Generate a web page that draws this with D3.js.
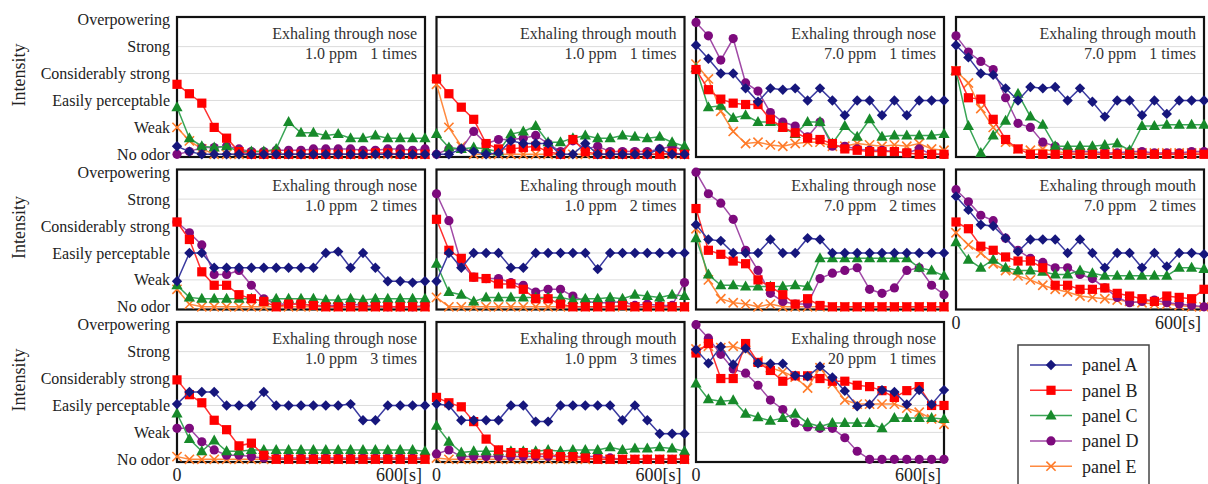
<!DOCTYPE html>
<html>
<head>
<meta charset="utf-8">
<script src="https://cdn.jsdelivr.net/npm/d3@7"></script>
<style>
  html, body { margin: 0; padding: 0; background: #fff; }
  svg { display: block; font-family: "Liberation Serif", "Times New Roman", serif; }
</style>
</head>
<body>
<svg id="chart" width="1208" height="484"></svg>
<script>
// Elapsed time after exhaling [s]
const times = [0, 30, 60, 90, 120, 150, 180, 210, 240, 270, 300, 330, 360, 390, 420, 450, 480, 510, 540, 570, 600];

// Odor intensity scale, 0 .. 5
const levelLabels = ["No odor", "Weak", "Easily perceptable", "Considerably strong", "Strong", "Overpowering"];

// Panel conditions (11 panels, read row by row)
const routes = ["Exhaling through nose", "Exhaling through mouth", "Exhaling through nose", "Exhaling through mouth",
                "Exhaling through nose", "Exhaling through mouth", "Exhaling through nose", "Exhaling through mouth",
                "Exhaling through nose", "Exhaling through mouth", "Exhaling through nose"];
const concentrations = ["1.0 ppm", "1.0 ppm", "7.0 ppm", "7.0 ppm",
                        "1.0 ppm", "1.0 ppm", "7.0 ppm", "7.0 ppm",
                        "1.0 ppm", "1.0 ppm", "20 ppm"];
const repeats = ["1 times", "1 times", "1 times", "1 times",
                 "2 times", "2 times", "2 times", "2 times",
                 "3 times", "3 times", "1 times"];

const seriesNames = ["panel A", "panel B", "panel C", "panel D", "panel E"];

// Mean intensity of each sensory panel, one row per condition
const panelA = [
  [0.3,0.1,0,0,0,0,0,0,0,0,0,0,0,0,0,0,0,0,0,0,0],
  [0,0,0.2,0.1,0,0.05,0.5,0.4,0.4,0.4,0,0,0.4,0,0,0,0,0,0.2,0,0],
  [4.05,3.55,3.0,3.0,2.45,1.95,2.45,2.4,2.45,2.0,2.45,2.0,1.45,2.0,2.0,1.45,2.0,1.45,2.0,2.0,2.0],
  [4.05,3.6,3.0,2.95,2.45,2.0,2.5,2.45,2.5,2.0,2.45,1.95,1.4,2.0,2.0,1.45,2.0,1.5,2.0,2.0,2.0],
  [0.95,2.0,2.0,1.45,1.45,1.45,1.45,1.45,1.45,1.45,1.45,1.45,2.0,2.05,1.45,2.0,1.45,0.95,0.95,0.9,0.95],
  [0.95,2.0,1.45,2.0,2.0,2.0,1.45,1.45,2.0,2.0,2.0,2.0,2.0,1.4,2.0,2.0,2.0,2.0,2.0,2.0,2.0],
  [3.05,2.5,2.45,2.0,2.0,2.0,2.5,2.0,2.0,2.55,2.5,2.0,2.0,2.0,2.0,2.0,2.0,2.0,2.0,2.0,2.0],
  [4.1,3.6,3.05,3.0,2.55,2.05,2.5,2.5,2.5,2.0,2.5,2.0,1.45,2.0,2.0,1.45,2.0,1.5,2.0,2.0,1.95],
  [2.05,2.5,2.5,2.5,2.0,2.0,2.0,2.5,2.0,2.0,2.0,2.0,2.0,2.0,2.05,1.45,1.45,2.0,2.0,2.0,2.0],
  [2.05,2.0,1.45,1.45,1.45,1.45,2.0,2.0,1.4,1.4,2.0,2.0,2.0,2.0,2.0,1.45,2.0,1.45,0.95,0.95,0.95],
  [4.08,3.57,4.18,3.52,4.12,3.57,3.55,3.55,3.11,3.08,3.45,3.04,2.54,1.97,2.04,2.57,2.5,2.04,2.57,2.04,2.57]
];
const panelB = [
  [2.6,2.25,1.9,1.0,0.6,0.1,0,0,0,0,0,0,0,0,0,0,0.05,0.05,0,0,0],
  [2.8,2.25,1.75,1.3,0.4,0.2,0.2,0.25,0.3,0.1,0,0.55,0.1,0,0,0,0,0,0,0.05,0],
  [3.15,2.4,2.05,1.9,1.85,1.85,1.3,1.0,0.8,0.6,0.55,0.4,0.2,0.15,0.1,0.1,0.1,0.05,0,0,0],
  [3.1,2.1,2.05,1.3,0.55,0.2,0,0,0,0,0,0,0,0,0,0,0,0,0,0,0],
  [3.15,2.5,1.3,0.8,0.8,0.45,0.3,0.2,0,0.1,0.1,0.05,0,0,0,0,0,0,0,0,0],
  [3.25,2.1,1.8,1.1,1.05,0.85,0.85,0.65,0.3,0.3,0.1,0,0,0,0,0.05,0,0,0,0,0],
  [3.65,2.1,1.95,1.7,1.6,1.0,0.75,0.45,0.1,0.3,0.05,0,0,0,0,0,0,0,0,0,0],
  [3.15,2.9,2.25,2.1,1.85,1.7,1.7,1.45,0.8,0.8,0.65,0.65,0.7,0.5,0.4,0.3,0.2,0.4,0.35,0.3,0.65],
  [2.95,2.4,2.1,1.45,1.1,0.5,0.6,0.15,0,0,0,0,0,0,0,0,0,0,0,0,0],
  [2.3,2.1,1.95,1.4,0.75,0.35,0.25,0.25,0.2,0.2,0.1,0.1,0.05,0,0,0,0,0,0,0,0],
  [3.95,4.3,3.0,3.0,4.3,3.6,3.3,2.9,3.1,3.1,3.0,2.9,2.9,2.75,2.7,2.55,2.3,2.55,2.7,2.0,2.0]
];
const panelC = [
  [1.75,0.6,0.3,0.25,0.3,0.1,0.1,0.1,0.2,1.2,0.8,0.8,0.7,0.75,0.6,0.6,0.7,0.6,0.6,0.6,0.6],
  [0.75,0.25,0.2,0.25,0.2,0.1,0.75,0.85,1.05,0.45,0.45,0.6,0.7,0.6,0.6,0.7,0.65,0.6,0.65,0.45,0.3],
  [3.2,1.75,1.8,1.35,1.45,1.2,1.2,1.0,0.75,1.2,1.2,0.4,1.05,0.65,1.3,0.65,0.7,0.7,0.7,0.7,0.75],
  [3.1,1.05,0.05,0.7,1.25,2.25,1.4,1.1,0.3,0.3,0.3,0.3,0.35,0.4,0.15,1.05,1.05,1.1,1.1,1.1,1.1],
  [0.8,0.35,0.3,0.3,0.3,0.3,0.3,0.2,0.3,0.3,0.3,0.3,0.25,0.25,0.3,0.25,0.3,0.3,0.3,0.3,0.3],
  [1.6,0.55,0.45,0.2,0.35,0.35,0.35,0.35,0.35,0.35,0.35,0.25,0.3,0.3,0.35,0.3,0.45,0.4,0.35,0.45,0.4],
  [2.55,1.2,0.8,0.8,0.75,0.75,0.75,0.75,0.8,0.75,1.8,1.8,1.8,1.8,1.8,1.8,1.8,1.8,1.45,1.35,1.15],
  [2.4,1.75,1.45,1.75,1.45,1.35,1.35,1.3,1.2,1.2,1.35,1.25,1.15,1.15,1.15,1.15,1.15,1.15,1.45,1.45,1.4],
  [1.7,0.75,0.3,0.7,0.3,0.3,0.35,0.35,0.35,0.35,0.35,0.35,0.35,0.35,0.35,0.35,0.35,0.35,0.35,0.35,0.3],
  [1.25,0.65,0.25,0.3,0.3,0.3,0.3,0.3,0.3,0.35,0.3,0.35,0.35,0.35,0.45,0.35,0.4,0.4,0.45,0.4,0.3],
  [2.82,2.23,2.16,2.19,1.69,1.56,1.43,1.53,1.69,1.35,1.22,1.35,1.35,1.35,1.35,1.15,1.53,1.53,1.53,1.53,1.5]
];
const panelD = [
  [0,0.1,0.25,0.25,0.3,0.2,0.1,0.1,0.15,0.15,0.15,0.2,0.2,0.2,0.2,0.15,0.15,0.2,0.2,0.15,0.2],
  [0,0.2,0.2,0.85,0.4,0.55,0.55,0.6,0.7,0.4,0.1,0.5,0.2,0.3,0.1,0.1,0.1,0.1,0.2,0.3,0.15],
  [4.9,4.4,3.5,4.3,2.65,2.35,1.55,1.2,1.05,0.65,1.2,0.3,0.3,0.2,0.15,0.15,0.1,0.05,0.2,0,0],
  [4.4,3.8,3.45,3.15,2.1,1.15,1.0,0.45,0.3,0.1,0.1,0.1,0.05,0.05,0.1,0.1,0.05,0.05,0.05,0.1,0.1],
  [3.15,2.75,2.3,1.2,1.2,1.35,0.8,0.3,0.1,0.1,0.1,0.05,0.05,0.05,0.1,0.05,0.05,0,0,0,0.05],
  [4.2,3.2,1.6,1.1,1.05,1.05,0.9,0.8,0.55,0.65,0.65,0.4,0.2,0.15,0.15,0.2,0.05,0.1,0.05,0.05,0.9],
  [5.0,4.2,3.85,3.25,2.1,1.35,0.5,0.2,0.1,0.1,1.05,1.25,1.35,1.45,0.65,0.5,0.7,1.35,1.45,0.8,0.45],
  [4.35,3.9,3.4,3.2,2.55,2.1,1.8,1.65,1.45,1.45,1.2,1.05,0.7,0.35,0.15,0.2,0.25,0.15,0.1,0.05,0],
  [1.15,1.15,0.65,0.35,0.15,0.15,0.1,0.05,0.05,0.05,0.05,0.05,0.05,0.05,0.05,0.05,0.05,0.05,0.05,0.05,0.05],
  [0.2,0.35,0.1,0.1,0.1,0.1,0.1,0.1,0.1,0.1,0.1,0.1,0.1,0.1,0.05,0,0,0,0,0,0],
  [5.0,4.5,3.9,3.35,3.2,2.75,2.2,1.85,1.35,1.2,1.15,1.15,0.8,0.3,0,0,0,0,0,0,0]
];
const panelE = [
  [1.0,0.5,0.2,0,0,0,0,0,0,0,0,0,0,0,0,0,0,0,0,0,0],
  [2.6,1.0,0.3,0,0,0,0,0,0,0,0,0,0,0,0,0,0,0,0,0,0],
  [3.35,2.8,1.6,0.85,0.4,0.45,0.35,0.3,0.4,0.45,0.45,0.3,0.3,0.4,0.35,0.3,0.35,0.3,0.4,0.2,0.15],
  [3.1,2.65,1.7,1.0,0.45,0.2,0.15,0.2,0.1,0.05,0.05,0.05,0.05,0.05,0.05,0.05,0.05,0.05,0.05,0.05,0.05],
  [0.65,0.1,0,0,0,0,0,0,0,0,0,0,0,0,0,0,0,0,0,0,0],
  [0.35,0,0,0,0,0,0,0,0,0,0,0,0,0,0,0,0,0,0,0,0],
  [2.9,1.0,0.3,0.15,0.1,0,0.1,0,0,0,0,0,0,0,0,0,0,0,0,0,0],
  [2.75,2.3,2.0,1.6,1.35,1.15,1.0,0.8,0.65,0.55,0.4,0.35,0.3,0.25,0.2,0.15,0.1,0.1,0.05,0,0],
  [0.1,0,0,0,0,0,0,0,0,0,0,0,0,0,0,0,0,0,0,0,0],
  [0.05,0,0,0,0,0,0,0,0,0,0,0,0,0,0,0,0,0,0,0,0],
  [4.1,4.2,4.15,4.2,4.05,3.65,3.4,3.25,3.05,2.65,3.4,2.8,2.2,2.05,2.05,2.05,2.05,1.9,1.75,1.5,1.3]
];

const seriesData = [panelA, panelB, panelC, panelD, panelE];

// Visual style per panel series
const styles = [
  { marker: "#16167c", line: "#3a3aa0", shape: "diamond" },
  { marker: "#ff0000", line: "#ff3030", shape: "square" },
  { marker: "#178a2a", line: "#3aa556", shape: "triangle" },
  { marker: "#7d0a7d", line: "#a04aa6", shape: "circle" },
  { marker: "#ff7a28", line: "#ff8a40", shape: "cross" }
];

const svg = d3.select("#chart");
const colX = [177, 436.5, 696, 956];
const rowY = [17, 169.5, 322];
const W = 248, H = 140;

const x = d3.scaleLinear().domain([0, 600]).range([0, W]);
const y = d3.scaleLinear().domain([-0.1, 5.1]).range([H, 0]);

function drawMarker(g, shape, st) {
  if (shape === "diamond") {
    g.append("path").attr("d", "M0,-5.2L5.2,0L0,5.2L-5.2,0Z").attr("fill", st.marker);
  } else if (shape === "square") {
    g.append("rect").attr("x", -4.6).attr("y", -4.6).attr("width", 9.2).attr("height", 9.2).attr("fill", st.marker);
  } else if (shape === "triangle") {
    g.append("path").attr("d", "M0,-6L5.6,4L-5.6,4Z").attr("fill", st.marker);
  } else if (shape === "circle") {
    g.append("circle").attr("r", 4.6).attr("fill", st.marker);
  } else {
    g.append("path").attr("d", "M-4.6,-4.6L4.6,4.6M-4.6,4.6L4.6,-4.6")
      .attr("stroke", st.marker).attr("stroke-width", 1.6).attr("fill", "none");
  }
}

const line = d3.line().x((d, i) => x(times[i])).y(d => y(d));

routes.forEach((route, p) => {
  const row = Math.floor(p / 4), col = p % 4;
  const g = svg.append("g").attr("transform", `translate(${colX[col]},${rowY[row]})`);

  // horizontal gridlines at each intensity level
  g.selectAll("line.grid").data([1, 2, 3, 4]).enter().append("line")
    .attr("x1", 0).attr("x2", W).attr("y1", d => y(d)).attr("y2", d => y(d))
    .attr("stroke", "#dcdcdc").attr("stroke-width", 1);

  // frame
  g.append("rect").attr("x", 0).attr("y", 0).attr("width", W).attr("height", H)
    .attr("fill", "none").attr("stroke", "#111").attr("stroke-width", 2.2);

  // condition label
  g.append("text").attr("x", W - 8).attr("y", 16).attr("dy", "0.35em")
    .attr("text-anchor", "end").attr("font-size", 16).attr("fill", "#333").text(route);
  const t2 = g.append("text").attr("x", W - 8).attr("y", 36).attr("dy", "0.35em")
    .attr("text-anchor", "end").attr("font-size", 16).attr("fill", "#333");
  t2.append("tspan").text(concentrations[p]);
  t2.append("tspan").attr("dx", 13).text(repeats[p]);

  // series, panel E drawn first so panel A sits on top
  for (let s = seriesData.length - 1; s >= 0; s--) {
    const vals = seriesData[s][p];
    const st = styles[s];
    g.append("path").datum(vals).attr("d", line)
      .attr("fill", "none").attr("stroke", st.line).attr("stroke-width", 1.5);
    vals.forEach((v, i) => {
      const m = g.append("g").attr("transform", `translate(${x(times[i])},${y(v)})`);
      drawMarker(m, st.shape, st);
    });
  }

  // y-axis level labels on the first column
  if (col === 0) {
    g.selectAll("text.lvl").data(levelLabels).enter().append("text")
      .attr("x", -7).attr("y", (d, i) => y(i)).attr("dy", "0.35em")
      .attr("text-anchor", "end").attr("font-size", 16).attr("fill", "#222").text(d => d);
    svg.append("text")
      .attr("transform", `translate(25,${rowY[row] + 58}) rotate(-90)`)
      .attr("text-anchor", "middle").attr("font-size", 18).attr("fill", "#222").text("Intensity");
  }

  // time axis labels beneath the lowest panel of each column
  if (row === 2 || (row === 1 && col === 3)) {
    g.append("text").attr("x", x(0)).attr("y", H + 19).attr("text-anchor", "middle")
      .attr("font-size", 18).attr("fill", "#222").text("0");
    g.append("text").attr("x", x(600) - 3).attr("y", H + 19).attr("text-anchor", "end")
      .attr("font-size", 18).attr("fill", "#222").text("600[s]");
  }
});

// legend
const lg = svg.append("g").attr("transform", "translate(1018,345)");
lg.append("rect").attr("x", 0).attr("y", 0).attr("width", 131).attr("height", 160)
  .attr("fill", "#fff").attr("stroke", "#444").attr("stroke-width", 1.5);
seriesNames.forEach((name, i) => {
  const cy = 20 + i * 25.3;
  const st = styles[i];
  lg.append("line").attr("x1", 12).attr("x2", 54).attr("y1", cy).attr("y2", cy)
    .attr("stroke", st.line).attr("stroke-width", 1.5);
  const m = lg.append("g").attr("transform", `translate(33,${cy})`);
  drawMarker(m, st.shape, st);
  lg.append("text").attr("x", 64).attr("y", cy).attr("dy", "0.35em")
    .attr("font-size", 18).attr("fill", "#222").text(name);
});
</script>
</body>
</html>
